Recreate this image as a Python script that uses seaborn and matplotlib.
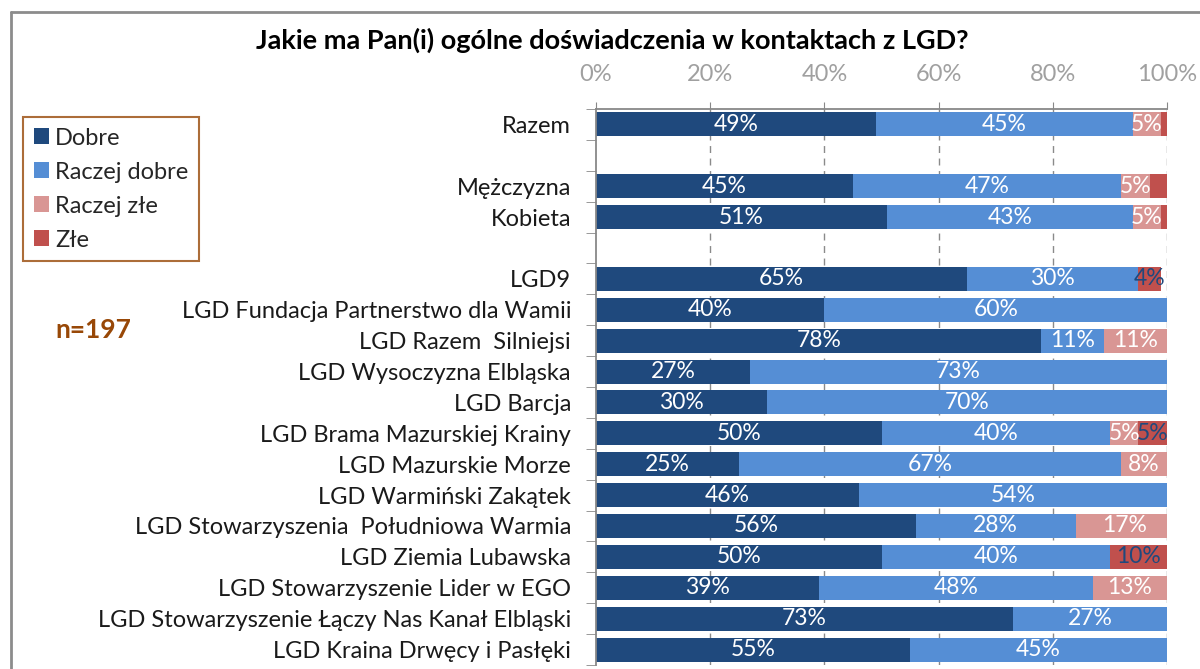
import numpy as np
import pandas as pd
import matplotlib
matplotlib.use('Agg')
import matplotlib.pyplot as plt
import seaborn as sns
from matplotlib.patches import Patch
from matplotlib.lines import Line2D

# data
categories = ['Razem', 'Mężczyzna', 'Kobieta', 'LGD9',
              'LGD Fundacja Partnerstwo dla Wamii',
              'LGD Razem  Silniejsi',
              'LGD Wysoczyzna Elbląska',
              'LGD Barcja',
              'LGD Brama Mazurskiej Krainy',
              'LGD Mazurskie Morze',
              'LGD Warmiński Zakątek',
              'LGD Stowarzyszenia  Południowa Warmia',
              'LGD Ziemia Lubawska',
              'LGD Stowarzyszenie Lider w EGO',
              'LGD Stowarzyszenie Łączy Nas Kanał Elbląski',
              'LGD Kraina Drwęcy i Pasłęki']
dobre = [49, 45, 51, 65, 40, 78, 27, 30, 50, 25, 46, 56, 50, 39, 73, 55]
raczej_dobre = [45, 47, 43, 30, 60, 11, 73, 70, 40, 67, 54, 28, 40, 48, 27, 45]
raczej_zle = [5, 5, 5, 0, 0, 11, 0, 0, 5, 8, 0, 17, 0, 13, 0, 0]
zle = [1, 3, 1, 4, 0, 0, 0, 0, 5, 0, 0, 0, 10, 0, 0, 0]
series = ['Dobre', 'Raczej dobre', 'Raczej złe', 'Złe']

# row order on the axis, empty slots as gaps
order = ['Razem', ' ', 'Mężczyzna', 'Kobieta', '  '] + categories[3:]

colors = ['#1f497d', '#558ed5', '#d99694', '#c0504d']
label_colors = ['white', 'white', 'white', '#1f497d']

df = pd.DataFrame({'cat': categories, 'Dobre': dobre, 'Raczej dobre': raczej_dobre,
                   'Raczej złe': raczej_zle, 'Złe': zle})
cum = df[series].cumsum(axis=1)

sns.set_style('white')
plt.rcParams['font.family'] = ['Lato', 'DejaVu Sans']

fig = plt.figure(figsize=(12, 6.69), dpi=100)
ax = fig.add_axes([596/1200, 4/669, (1167-596)/1200, (665-109)/669])

# stacked bars: draw cumulative sums from the widest one down
for s, c in zip(series[::-1], colors[::-1]):
    sns.barplot(x=cum[s], y=df['cat'], order=order, orient='h', color=c,
                saturation=1, width=0.78, linewidth=0, ax=ax)

# value labels
for i, s in enumerate(series):
    for cat, left, v in zip(df['cat'], cum[s] - df[s], df[s]):
        if v >= 4:
            ax.text(left + v/2, order.index(cat), f'{v}%', ha='center', va='center',
                    color=label_colors[i], fontsize=16.5)

ax.set_xlim(0, 100)
ax.set_ylim(len(order) - 0.5, -0.5)
ax.set_xlabel('')
ax.set_ylabel('')
ax.xaxis.tick_top()
ax.set_xticks(range(0, 101, 20))
ax.set_xticklabels([f'{t}%' for t in range(0, 101, 20)], color='#a0a0a0', fontsize=17)
ax.tick_params(axis='x', length=5, color='#888888', pad=12)
ax.set_yticks(range(len(order)))
ax.set_yticklabels(order, fontsize=17, color='#1a1a1a')
ax.set_yticks(np.arange(-0.5, len(order), 1), minor=True)
ax.tick_params(axis='y', which='major', length=0, pad=18)
ax.tick_params(axis='y', which='minor', length=7, color='#888888', left=True)

ax.grid(False)
for t in range(20, 101, 20):
    ax.axvline(t, color='#8a8a8a', lw=1, ls=(0, (5, 4)), zorder=0)

for side in ['right', 'bottom']:
    ax.spines[side].set_visible(False)
for side in ['left', 'top']:
    ax.spines[side].set_color('#888888')
    ax.spines[side].set_linewidth(1.3)

fig.text(612/1200, 1 - 40/669, 'Jakie ma Pan(i) ogólne doświadczenia w kontaktach z LGD?',
         ha='center', va='center', fontsize=19.5, fontweight='bold', color='black')

handles = [Patch(facecolor=c, edgecolor='none') for c in colors]
leg = fig.legend(handles, series, loc='upper left', bbox_to_anchor=(23/1200, 1 - 117/669),
                 bbox_transform=fig.transFigure, fontsize=17, frameon=True, fancybox=False,
                 handlelength=0.65, handleheight=0.65, handletextpad=0.25, labelspacing=0.55,
                 borderpad=0.45, borderaxespad=0)
leg.get_frame().set_edgecolor('#984807')
leg.get_frame().set_linewidth(1.5)

fig.text(55/1200, 1 - 330/669, 'n=197', ha='left', va='center', fontsize=19,
         fontweight='bold', color='#984807')

# outer frame
fig.add_artist(Line2D([11/1200, 1], [1 - 12/669, 1 - 12/669], color='#8c8c8c', lw=2,
                      transform=fig.transFigure))
fig.add_artist(Line2D([11/1200, 11/1200], [0, 1 - 12/669], color='#8c8c8c', lw=2,
                      transform=fig.transFigure))

fig.savefig('out.png', dpi=100)
